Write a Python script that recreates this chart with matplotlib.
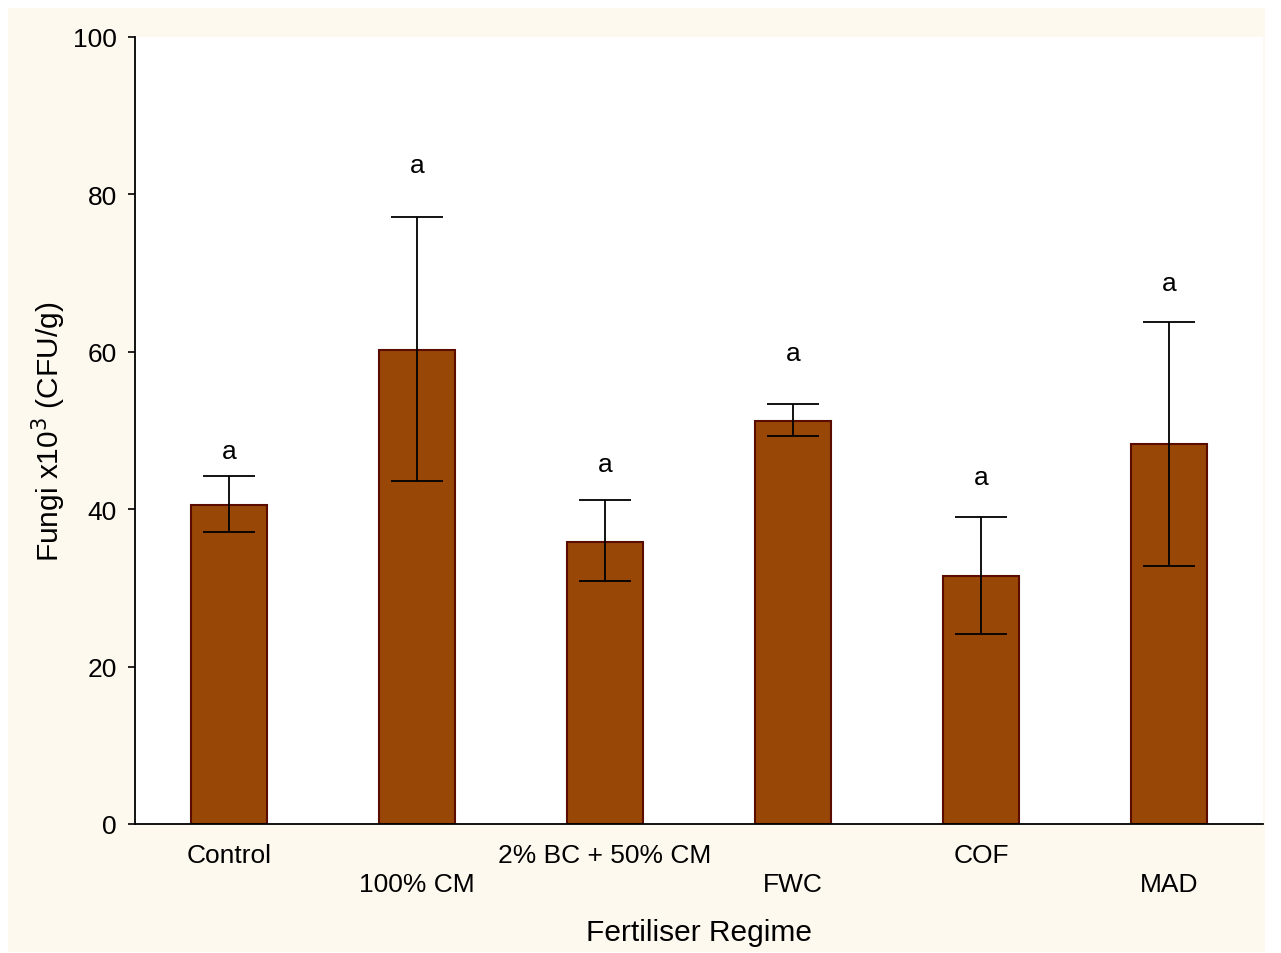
import matplotlib.pyplot as plt
from matplotlib.patches import Rectangle

plt.rcParams["font.family"] = ["Liberation Sans", "DejaVu Sans"]

# data
regimes = ["Control", "100% CM", "2% BC + 50% CM", "FWC", "COF", "MAD"]
means = [40.5, 60.2, 35.8, 51.2, 31.5, 48.3]
err_high = [44.2, 77.1, 41.2, 53.4, 39.0, 63.8]
err_low = [37.1, 43.6, 30.9, 49.3, 24.1, 32.8]
letters = ["a", "a", "a", "a", "a", "a"]
letter_y = [47.4, 83.7, 45.7, 59.8, 44.1, 68.7]

x = list(range(len(regimes)))
yerr = [[m - lo for m, lo in zip(means, err_low)],
        [hi - m for m, hi in zip(means, err_high)]]

fig = plt.figure(figsize=(12.81, 9.54), dpi=100, facecolor="white")
# cream panel behind the plot
fig.patches.append(Rectangle((8 / 1281, 1 - 953 / 954), (1265 - 8) / 1281, (953 - 9) / 954,
                             transform=fig.transFigure, facecolor="#fef9ef",
                             edgecolor="none", zorder=-10))

ax = fig.add_axes([135 / 1281, 1 - 825 / 954, (1263 - 135) / 1281, (825 - 38) / 954])
ax.set_facecolor("white")

ax.bar(x, means, width=0.4, color="#994706", edgecolor="#5a0c00", linewidth=1.5, zorder=2)
ax.errorbar(x, means, yerr=yerr, fmt="none", ecolor="black", elinewidth=1.3,
            capsize=19, capthick=1.3, zorder=3)

for xi, lab, ly in zip(x, letters, letter_y):
    ax.text(xi, ly, lab, ha="center", va="center", fontsize=19)

ax.set_xlim(-0.5, 5.5)
ax.set_ylim(0, 100)
ax.set_yticks([0, 20, 40, 60, 80, 100])
ax.tick_params(axis="y", direction="out", length=5, width=1.2, labelsize=19, pad=8)
ax.tick_params(axis="x", direction="in", length=5, width=1.2, labelsize=19, pad=14)
ax.set_xticks(x)
ax.set_xticklabels([lab if i % 2 == 0 else "\n" + lab for i, lab in enumerate(regimes)],
                   linespacing=1.25)
for lab in ax.get_xticklabels():
    lab.set_verticalalignment("top")

for side in ["top", "right"]:
    ax.spines[side].set_visible(False)
for side in ["left", "bottom"]:
    ax.spines[side].set_linewidth(1.3)

ax.set_xlabel("Fertiliser Regime", fontsize=21.5, labelpad=16)
ax.set_ylabel("Fungi x10$^3$ (CFU/g)", fontsize=21.5, labelpad=4)

fig.savefig("out.png", dpi=100, facecolor=fig.get_facecolor())
